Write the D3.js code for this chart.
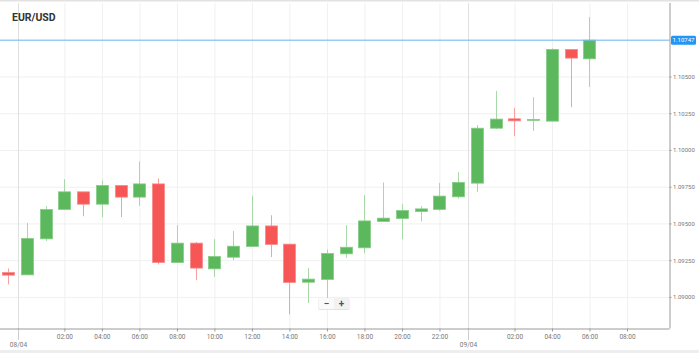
<!DOCTYPE html>
<html>
<head>
<meta charset="utf-8">
<script src="https://cdn.jsdelivr.net/npm/d3@7"></script>
<style>
  body { margin: 0; background: #fff; }
  #chart { width: 699px; height: 353px; overflow: hidden; }
  .axis text { font-family: Roboto, sans-serif; fill: #777; }
  .axis .domain { stroke: #9a9a9a; }
  .axis .tick line { stroke: #9a9a9a; }
  .grid .domain { display: none; }
  .grid .tick line { stroke: #f0f0f0; }
</style>
</head>
<body>
<div id="chart"></div>
<script>
var title = "EUR/USD";

// hourly candles, 07/04 23:00 -> 09/04 06:00
var times = [
  "2020-04-07 23:00",
  "2020-04-08 00:00", "2020-04-08 01:00", "2020-04-08 02:00", "2020-04-08 03:00",
  "2020-04-08 04:00", "2020-04-08 05:00", "2020-04-08 06:00", "2020-04-08 07:00",
  "2020-04-08 08:00", "2020-04-08 09:00", "2020-04-08 10:00", "2020-04-08 11:00",
  "2020-04-08 12:00", "2020-04-08 13:00", "2020-04-08 14:00", "2020-04-08 15:00",
  "2020-04-08 16:00", "2020-04-08 17:00", "2020-04-08 18:00", "2020-04-08 19:00",
  "2020-04-08 20:00", "2020-04-08 21:00", "2020-04-08 22:00", "2020-04-08 23:00",
  "2020-04-09 00:00", "2020-04-09 01:00", "2020-04-09 02:00", "2020-04-09 03:00",
  "2020-04-09 04:00", "2020-04-09 05:00", "2020-04-09 06:00"
];
var opens = [
  1.09166, 1.09150, 1.09395, 1.09595, 1.09715, 1.09631, 1.09758, 1.09679,
  1.09769, 1.09234, 1.09366, 1.09191, 1.09270, 1.09343, 1.09483, 1.09359,
  1.09100, 1.09119, 1.09293, 1.09334, 1.09513, 1.09534, 1.09581, 1.09595,
  1.09681, 1.09774, 1.10148, 1.10212, 1.10201, 1.10196, 1.10684, 1.10620
];
var highs = [
  1.09194, 1.09504, 1.09618, 1.09801, 1.09715, 1.09792, 1.09758, 1.09922,
  1.09806, 1.09488, 1.09373, 1.09393, 1.09449, 1.09688, 1.09556, 1.09359,
  1.09196, 1.09323, 1.09488, 1.09692, 1.09779, 1.09631, 1.09618, 1.09776,
  1.09849, 1.10169, 1.10402, 1.10287, 1.10359, 1.10691, 1.10684, 1.10904
];
var lows = [
  1.09085, 1.09148, 1.09381, 1.09595, 1.09549, 1.09543, 1.09543, 1.09620,
  1.09221, 1.09234, 1.09114, 1.09136, 1.09250, 1.09343, 1.09272, 1.08882,
  1.08959, 1.08993, 1.09266, 1.09298, 1.09513, 1.09393, 1.09513, 1.09586,
  1.09670, 1.09715, 1.10142, 1.10096, 1.10130, 1.10196, 1.10291, 1.10429
];
var closes = [
  1.09148, 1.09398, 1.09595, 1.09715, 1.09631, 1.09758, 1.09679, 1.09769,
  1.09234, 1.09366, 1.09196, 1.09275, 1.09345, 1.09483, 1.09357, 1.09098,
  1.09121, 1.09296, 1.09338, 1.09517, 1.09536, 1.09588, 1.09599, 1.09686,
  1.09779, 1.10148, 1.10210, 1.10198, 1.10208, 1.10684, 1.10625, 1.10747
];

var hourTicks = [
  "2020-04-08 02:00", "2020-04-08 04:00", "2020-04-08 06:00", "2020-04-08 08:00",
  "2020-04-08 10:00", "2020-04-08 12:00", "2020-04-08 14:00", "2020-04-08 16:00",
  "2020-04-08 18:00", "2020-04-08 20:00", "2020-04-08 22:00",
  "2020-04-09 02:00", "2020-04-09 04:00", "2020-04-09 06:00", "2020-04-09 08:00"
];
var dateTicks = ["2020-04-07 23:30", "2020-04-08 23:30"];
var dateLabels = ["08/04", "09/04"];
var priceTicks = [1.0900, 1.0925, 1.0950, 1.0975, 1.1000, 1.1025, 1.1050, 1.1075];
var lastPrice = 1.10747;

var W = 699, H = 353;
var plotRight = 669.5, plotTop = 3, plotBottom = 328.5;
var upColor = "#5cb85c", upWick = "#a8d8a8", upStroke = "#86cc86";
var downColor = "#f65656", downWick = "#f6a0a0", downStroke = "#f88a8a";

var parse = d3.utcParse("%Y-%m-%d %H:%M");
var data = times.map(function (t, i) {
  return { t: parse(t), o: opens[i], h: highs[i], l: lows[i], c: closes[i] };
});

var x = d3.scaleUtc()
  .domain([parse("2020-04-07 22:34"), parse("2020-04-09 10:16")])
  .range([0, plotRight]);
var y = d3.scaleLinear()
  .domain([1.08785, 1.11])
  .range([plotBottom, plotTop]);

var svg = d3.select("#chart").append("svg")
  .attr("width", W).attr("height", H)
  .style("font-family", "Roboto, sans-serif");

// top shadow and bottom band
svg.append("rect").attr("x", 0).attr("y", 0).attr("width", W).attr("height", 1.5).attr("fill", "#e2e2e2");
svg.append("rect").attr("x", 0).attr("y", 350).attr("width", W).attr("height", 3).attr("fill", "#eeeeee");

// grid
svg.append("g").attr("class", "grid")
  .attr("transform", "translate(0," + plotBottom + ")")
  .call(d3.axisBottom(x).tickValues(hourTicks.map(parse)).tickSize(-(plotBottom - plotTop)).tickFormat(""));
svg.append("g").attr("class", "grid")
  .call(d3.axisRight(y).tickValues(priceTicks).tickSize(plotRight).tickFormat(""));

// day separators
svg.selectAll("line.day").data(dateTicks.map(parse)).enter().append("line")
  .attr("class", "day")
  .attr("x1", function (d) { return Math.round(x(d)) + 0.5; })
  .attr("x2", function (d) { return Math.round(x(d)) + 0.5; })
  .attr("y1", plotTop).attr("y2", plotBottom)
  .attr("stroke", "#e0e0e0");

// candles
var bw = 12;
var candles = svg.append("g").selectAll("g").data(data).enter().append("g");
candles.append("line")
  .attr("x1", function (d) { return Math.round(x(d.t)) + 0.5; })
  .attr("x2", function (d) { return Math.round(x(d.t)) + 0.5; })
  .attr("y1", function (d) { return y(d.h); })
  .attr("y2", function (d) { return y(d.l); })
  .attr("stroke", function (d) { return d.c >= d.o ? upWick : downWick; });
candles.append("rect")
  .attr("x", function (d) { return Math.round(x(d.t)) - bw / 2 + 0.5; })
  .attr("width", bw)
  .attr("y", function (d) { return y(Math.max(d.o, d.c)); })
  .attr("height", function (d) { return Math.max(1, Math.abs(y(d.o) - y(d.c))); })
  .attr("fill", function (d) { return d.c >= d.o ? upColor : downColor; })
  .attr("stroke", function (d) { return d.c >= d.o ? upStroke : downStroke; })
  .attr("stroke-width", 0.8);

// axes
var xAxis = svg.append("g").attr("class", "axis")
  .attr("transform", "translate(0," + plotBottom + ")")
  .call(d3.axisBottom(x).tickValues(hourTicks.map(parse))
    .tickFormat(d3.utcFormat("%H:%M")).tickSize(3).tickPadding(3).tickSizeOuter(0));
xAxis.select(".domain").attr("d", "M0,0.5H" + plotRight);
xAxis.selectAll("text").attr("font-size", 6.5);

var dayTick = svg.append("g").selectAll("g").data(dateTicks.map(parse)).enter().append("g")
  .attr("transform", function (d) { return "translate(" + (Math.round(x(d)) + 0.5) + "," + plotBottom + ")"; });
dayTick.append("line").attr("y1", 0).attr("y2", 11)
  .attr("stroke", "#9a9a9a").attr("stroke-dasharray", "1,1");
dayTick.append("text").attr("y", 18.5).attr("text-anchor", "middle")
  .attr("font-size", 6.5).attr("fill", "#777")
  .text(function (d, i) { return dateLabels[i]; });

var yAxis = svg.append("g").attr("class", "axis")
  .attr("transform", "translate(" + plotRight + ",0)")
  .call(d3.axisRight(y).tickValues(priceTicks.slice(0, -1))
    .tickFormat(d3.format(".5f")).tickSize(2).tickPadding(1.5).tickSizeOuter(0));
yAxis.select(".domain").attr("d", "M0.5," + plotTop + "V" + plotBottom);
yAxis.selectAll("text").attr("font-size", 6);

// last price line + label
svg.append("line")
  .attr("x1", 0).attr("x2", plotRight)
  .attr("y1", y(lastPrice)).attr("y2", y(lastPrice))
  .attr("stroke", "#6bb8f2").attr("stroke-width", 1);
svg.append("rect")
  .attr("x", 671).attr("y", y(lastPrice) - 4.5)
  .attr("width", 25).attr("height", 9).attr("rx", 1.5)
  .attr("fill", "#2196f3");
svg.append("text")
  .attr("x", 683.5).attr("y", y(lastPrice) + 2.1)
  .attr("text-anchor", "middle").attr("font-size", 6).attr("fill", "#fff")
  .text(d3.format(".5f")(lastPrice));

// title
svg.append("text")
  .attr("x", 12).attr("y", 20.5)
  .attr("font-size", 10.5).attr("font-weight", "bold").attr("fill", "#333")
  .text(title);

// zoom buttons
var zb = svg.append("g").attr("transform", "translate(319,298)");
zb.append("rect").attr("x", -0.5).attr("y", 0.5).attr("width", 31).attr("height", 11.5)
  .attr("rx", 1.5).attr("fill", "#e4e4e4");
zb.append("rect").attr("x", 0).attr("y", 0).attr("width", 30).attr("height", 11)
  .attr("rx", 1.5).attr("fill", "#fafafa");
zb.append("rect").attr("x", 15).attr("y", 0).attr("width", 15).attr("height", 11)
  .attr("fill", "#f2f2f2");
zb.append("text").attr("x", 7.5).attr("y", 8.5).attr("text-anchor", "middle")
  .attr("font-size", 10).attr("font-weight", "bold").attr("fill", "#555").text("\u2212");
zb.append("text").attr("x", 22.5).attr("y", 8.5).attr("text-anchor", "middle")
  .attr("font-size", 10).attr("font-weight", "bold").attr("fill", "#555").text("+");
</script>
</body>
</html>
